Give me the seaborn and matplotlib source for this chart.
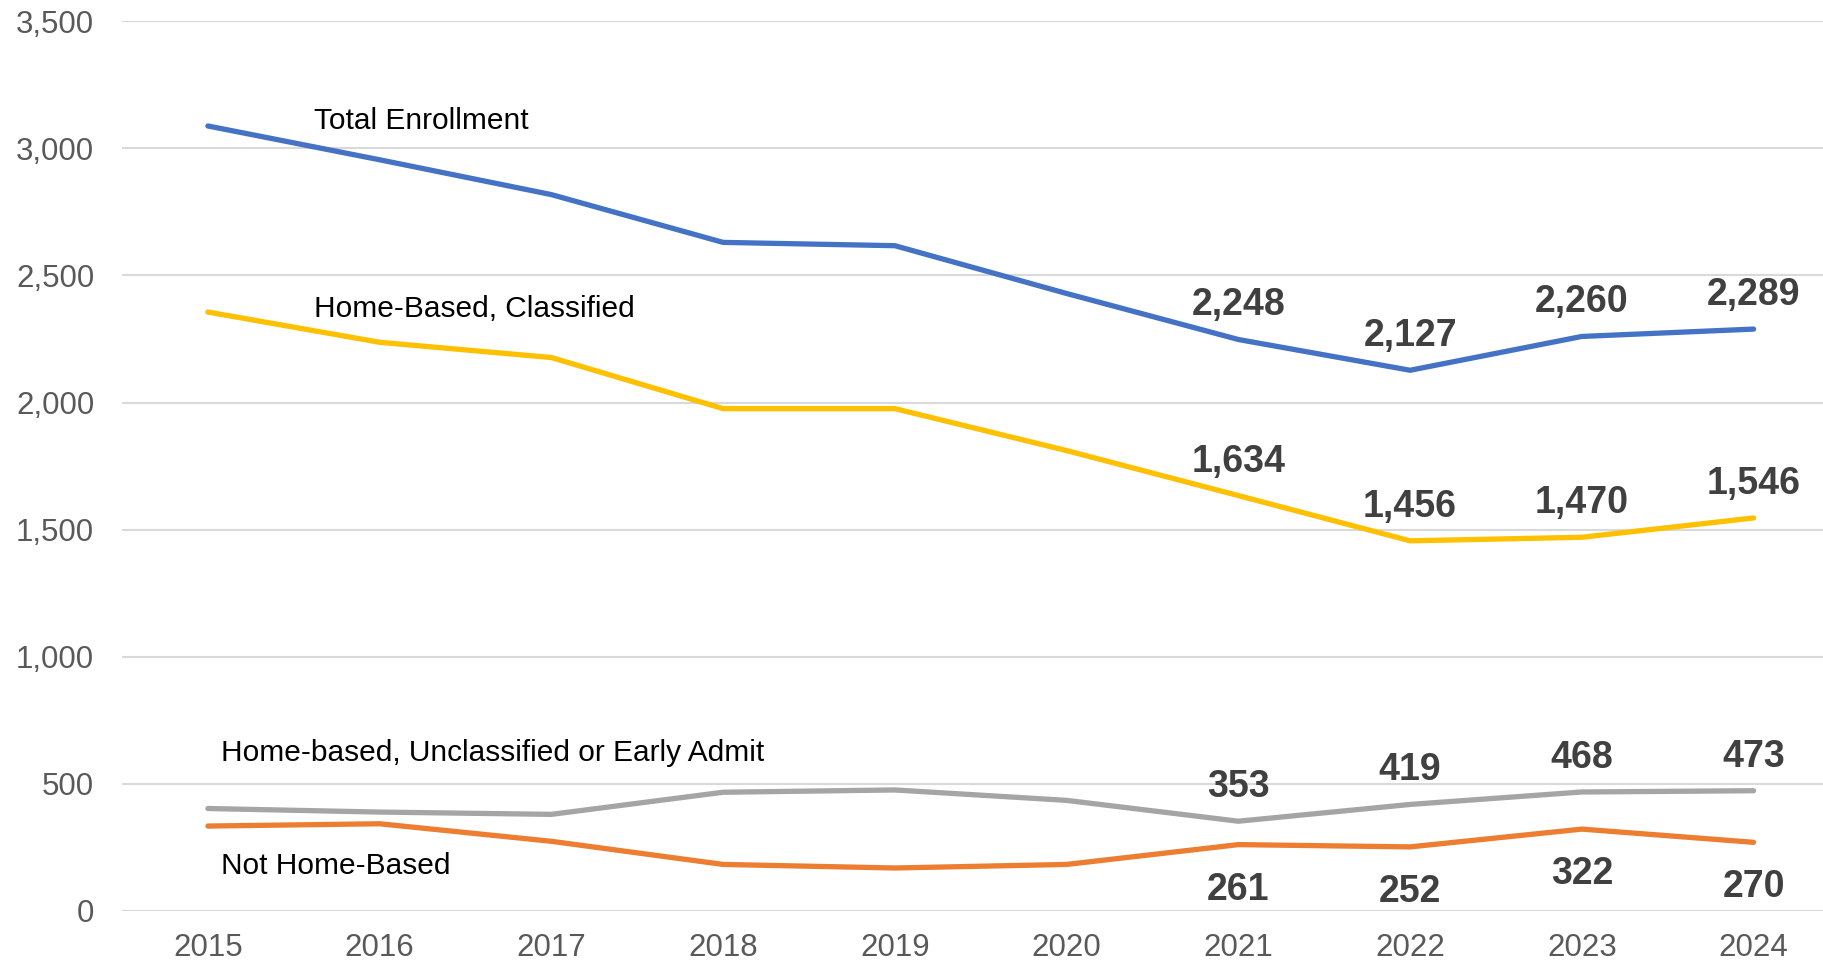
import matplotlib
matplotlib.use('Agg')

import matplotlib.pyplot as plt
import numpy as np
import pandas as pd
import seaborn as sns

sns.set_style("white")
plt.rcParams['font.family'] = ['Liberation Sans', 'DejaVu Sans']

# data

years = [2015, 2016, 2017, 2018, 2019, 2020, 2021, 2022, 2023, 2024]
total = [3088, 2955, 2818, 2630, 2617, 2429, 2248, 2127, 2260, 2289]
classified = [2356, 2237, 2177, 1976, 1976, 1811, 1634, 1456, 1470, 1546]
unclassified = [403, 389, 380, 467, 476, 435, 353, 419, 468, 473]
not_home = [334, 343, 274, 183, 169, 183, 261, 252, 322, 270]

series_names = ["Total Enrollment", "Home-Based, Classified",
                "Home-based, Unclassified or Early Admit", "Not Home-Based"]
colors = ["#4472C4", "#FFC000", "#A5A5A5", "#ED7D31"]
labelled_years = [2021, 2022, 2023, 2024]

df = pd.DataFrame({"year": years * 4,
                   "value": total + classified + unclassified + not_home,
                   "series": np.repeat(series_names, len(years))})

fig = plt.figure(figsize=(18.24, 9.65), dpi=100)
ax = fig.add_axes([0.0669, 0.056, 0.9331, 0.922])

sns.lineplot(data=df, x="year", y="value", hue="series", palette=colors,
             hue_order=series_names, linewidth=3.8, legend=False, ax=ax,
             solid_capstyle="round", solid_joinstyle="round")

ax.set_ylim(0, 3500)
ax.set_xlim(2014.5, 2024.41)
ax.set_yticks(np.arange(0, 3501, 500))
ax.set_yticklabels([f"{v:,}" for v in range(0, 3501, 500)])
ax.set_xticks(years)
ax.set_xticklabels([str(y) for y in years])
ax.yaxis.grid(True, color="#D9D9D9", linewidth=1.5)
ax.set_axisbelow(True)
for s in ax.spines.values():
    s.set_visible(False)
ax.tick_params(axis="both", length=0, labelsize=22.5, colors="#595959")
ax.tick_params(axis="x", pad=16)
ax.tick_params(axis="y", pad=20)
ax.set_xlabel("")
ax.set_ylabel("")

# series names
ax.text(2015.62, 3108, series_names[0], fontsize=21.5, va="center", color="black")
ax.text(2015.62, 2369, series_names[1], fontsize=21.5, va="center", color="black")
ax.text(2015.076, 623, series_names[2], fontsize=21.5, va="center", color="black")
ax.text(2015.076, 175, series_names[3], fontsize=21.5, va="center", color="black")

# data labels for the last four years
for vals, off in [(total, 24.5), (classified, 24.5), (unclassified, 24.5), (not_home, -32.5)]:
    for y, v in zip(years, vals):
        if y in labelled_years:
            ax.annotate(f"{v:,}", (y, v), xytext=(0, off), textcoords="offset points",
                        ha="center", va="center", fontsize=27, fontweight="bold",
                        color="#404040")

plt.savefig("out.png", dpi=100)
